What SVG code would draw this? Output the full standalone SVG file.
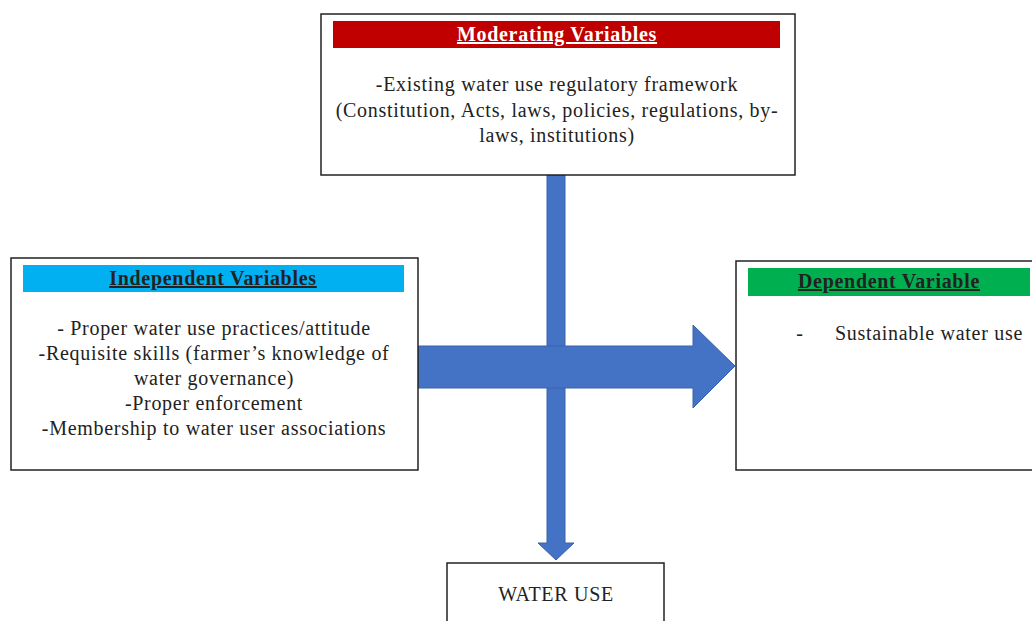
<svg xmlns="http://www.w3.org/2000/svg" width="1032" height="621" viewBox="0 0 1032 621">
<style>
.box{fill:#fff;stroke:#222;stroke-width:1.5}
.t{font-family:"Liberation Serif","Times New Roman",serif;font-size:20px;letter-spacing:0.7px;fill:#222;text-anchor:middle}
.h{font-weight:bold;text-decoration:underline}
.arrow{fill:#4472C4;stroke:#3A62AA;stroke-width:1}
</style>
<rect width="1032" height="621" fill="#fff"/>
<g id="connectors">
<polygon class="arrow" points="547,175 565,175 565,543 574,543 556,560 538,543 547,543"/>
<polygon class="arrow" points="418,346 693,346 693,325 735,366 693,408 693,388 418,388"/>
</g>
<g id="moderating">
<rect class="box" x="321" y="14" width="474" height="161"/>
<rect x="333" y="21" width="447" height="27" fill="#C00000"/>
<text class="t h" x="557" y="41" style="fill:#fff">Moderating Variables</text>
<text class="t" x="557" y="91">-Existing water use regulatory framework</text>
<text class="t" x="557" y="117">(Constitution, Acts, laws, policies, regulations, by-</text>
<text class="t" x="557" y="142">laws, institutions)</text>
</g>
<g id="independent">
<rect class="box" x="11" y="258" width="407" height="212"/>
<rect x="23" y="265" width="381" height="27" fill="#00B0F0"/>
<text class="t h" x="213" y="285">Independent Variables</text>
<text class="t" x="214" y="335">- Proper water use practices/attitude</text>
<text class="t" x="214" y="360">-Requisite skills (farmer’s knowledge of</text>
<text class="t" x="214" y="385">water governance)</text>
<text class="t" x="214" y="410">-Proper enforcement</text>
<text class="t" x="214" y="435">-Membership to water user associations</text>
</g>
<g id="dependent">
<rect class="box" x="736" y="261" width="300" height="209"/>
<rect x="748" y="268" width="282" height="28" fill="#00B050"/>
<text class="t h" x="889" y="288">Dependent Variable</text>
<text class="t" x="800" y="340">-</text>
<text class="t" x="835" y="340" style="text-anchor:start">Sustainable water use</text>
</g>
<g id="wateruse">
<rect class="box" x="447" y="563" width="217" height="70"/>
<text class="t" x="556" y="601">WATER USE</text>
</g>
</svg>
